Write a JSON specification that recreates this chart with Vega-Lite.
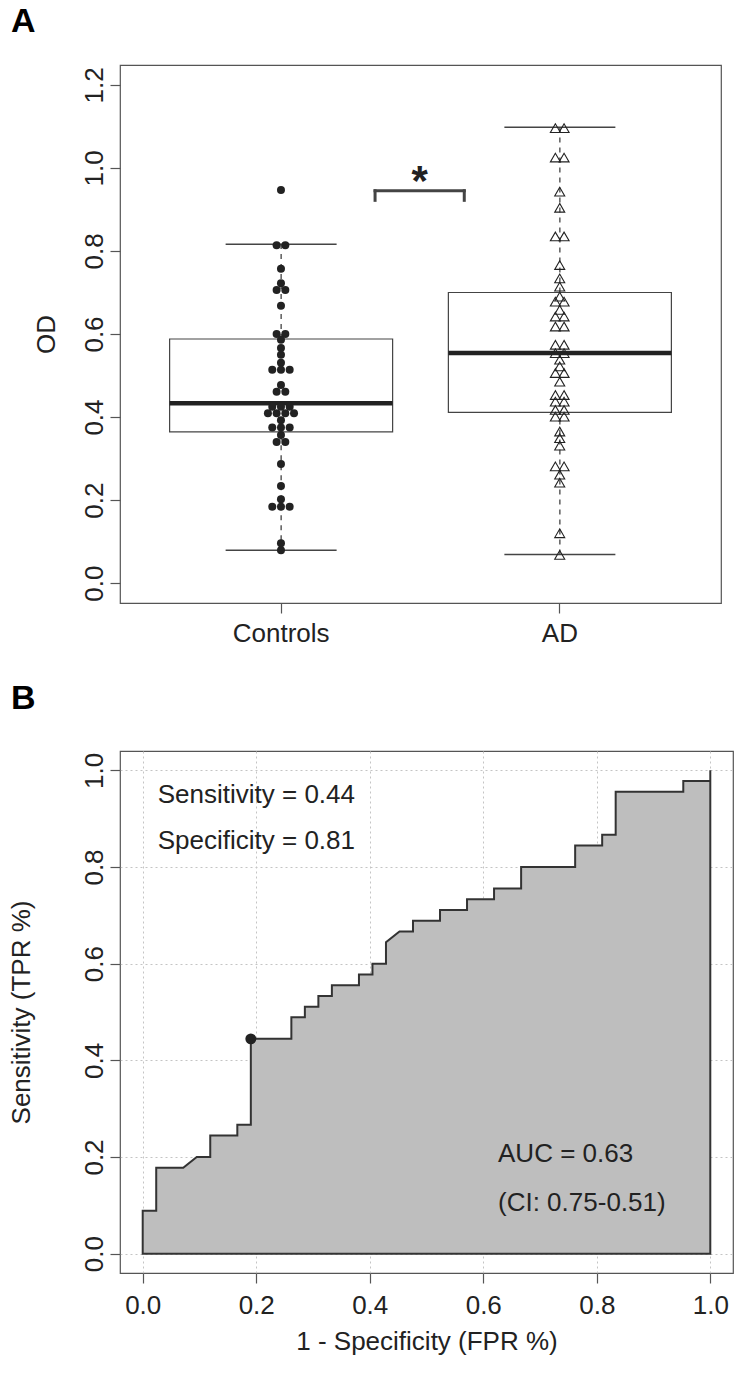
{
  "$schema": "https://vega.github.io/schema/vega-lite/v6.json",
  "padding": {"left": 7, "top": 4, "right": 0, "bottom": 0},
  "background": "white",
  "config": {
    "font": "Liberation Sans",
    "view": {"stroke": "#555", "strokeWidth": 1.2},
    "axis": {
      "labelFont": "Liberation Sans", "titleFont": "Liberation Sans",
      "labelFontSize": 26, "titleFontSize": 26,
      "labelColor": "#222", "titleColor": "#222", "titleFontWeight": "normal",
      "tickColor": "#555", "tickWidth": 1.2, "tickSize": 10,
      "domain": false, "grid": false
    },
    "title": {"font": "Liberation Sans", "fontSize": 34, "fontWeight": "bold", "color": "#000", "anchor": "start", "frame": "group"}
  },
  "datasets": {
    "boxes": [
      {"group": "Controls", "wlo": 0.079, "q1": 0.364, "med": 0.433, "q3": 0.588, "whi": 0.816},
      {"group": "AD", "wlo": 0.069, "q1": 0.411, "med": 0.554, "q3": 0.700, "whi": 1.098}
    ],
    "points": [
      {"group": "Controls", "OD": 0.947}, {"group": "Controls", "OD": 0.814}, {"group": "Controls", "OD": 0.814},
      {"group": "Controls", "OD": 0.757}, {"group": "Controls", "OD": 0.722}, {"group": "Controls", "OD": 0.706},
      {"group": "Controls", "OD": 0.706}, {"group": "Controls", "OD": 0.668}, {"group": "Controls", "OD": 0.600},
      {"group": "Controls", "OD": 0.600}, {"group": "Controls", "OD": 0.586}, {"group": "Controls", "OD": 0.566},
      {"group": "Controls", "OD": 0.550}, {"group": "Controls", "OD": 0.531}, {"group": "Controls", "OD": 0.514},
      {"group": "Controls", "OD": 0.514}, {"group": "Controls", "OD": 0.514}, {"group": "Controls", "OD": 0.477},
      {"group": "Controls", "OD": 0.461}, {"group": "Controls", "OD": 0.461}, {"group": "Controls", "OD": 0.425},
      {"group": "Controls", "OD": 0.425}, {"group": "Controls", "OD": 0.425}, {"group": "Controls", "OD": 0.409},
      {"group": "Controls", "OD": 0.409}, {"group": "Controls", "OD": 0.409}, {"group": "Controls", "OD": 0.409},
      {"group": "Controls", "OD": 0.392}, {"group": "Controls", "OD": 0.375}, {"group": "Controls", "OD": 0.375},
      {"group": "Controls", "OD": 0.375}, {"group": "Controls", "OD": 0.357}, {"group": "Controls", "OD": 0.340},
      {"group": "Controls", "OD": 0.340}, {"group": "Controls", "OD": 0.287}, {"group": "Controls", "OD": 0.234},
      {"group": "Controls", "OD": 0.202}, {"group": "Controls", "OD": 0.184}, {"group": "Controls", "OD": 0.184},
      {"group": "Controls", "OD": 0.184}, {"group": "Controls", "OD": 0.096}, {"group": "Controls", "OD": 0.079},
      {"group": "AD", "OD": 1.096}, {"group": "AD", "OD": 1.096}, {"group": "AD", "OD": 1.025},
      {"group": "AD", "OD": 1.025}, {"group": "AD", "OD": 0.943}, {"group": "AD", "OD": 0.904},
      {"group": "AD", "OD": 0.835}, {"group": "AD", "OD": 0.835}, {"group": "AD", "OD": 0.766},
      {"group": "AD", "OD": 0.734}, {"group": "AD", "OD": 0.714}, {"group": "AD", "OD": 0.690},
      {"group": "AD", "OD": 0.678}, {"group": "AD", "OD": 0.678}, {"group": "AD", "OD": 0.658},
      {"group": "AD", "OD": 0.642}, {"group": "AD", "OD": 0.642}, {"group": "AD", "OD": 0.618},
      {"group": "AD", "OD": 0.618}, {"group": "AD", "OD": 0.574}, {"group": "AD", "OD": 0.574},
      {"group": "AD", "OD": 0.554}, {"group": "AD", "OD": 0.554}, {"group": "AD", "OD": 0.538},
      {"group": "AD", "OD": 0.522}, {"group": "AD", "OD": 0.506}, {"group": "AD", "OD": 0.506},
      {"group": "AD", "OD": 0.485}, {"group": "AD", "OD": 0.453}, {"group": "AD", "OD": 0.453},
      {"group": "AD", "OD": 0.437}, {"group": "AD", "OD": 0.437}, {"group": "AD", "OD": 0.417},
      {"group": "AD", "OD": 0.417}, {"group": "AD", "OD": 0.401}, {"group": "AD", "OD": 0.401},
      {"group": "AD", "OD": 0.365}, {"group": "AD", "OD": 0.349}, {"group": "AD", "OD": 0.331},
      {"group": "AD", "OD": 0.281}, {"group": "AD", "OD": 0.281}, {"group": "AD", "OD": 0.261},
      {"group": "AD", "OD": 0.242}, {"group": "AD", "OD": 0.120}, {"group": "AD", "OD": 0.068}
    ],
    "roc": [
      {"FPR": 0, "TPR": 0}, {"FPR": 0, "TPR": 0.0889}, {"FPR": 0.0238, "TPR": 0.0889}, {"FPR": 0.0238, "TPR": 0.1778},
      {"FPR": 0.0714, "TPR": 0.1778}, {"FPR": 0.0952, "TPR": 0.2}, {"FPR": 0.119, "TPR": 0.2}, {"FPR": 0.119, "TPR": 0.2444},
      {"FPR": 0.1667, "TPR": 0.2444}, {"FPR": 0.1667, "TPR": 0.2667}, {"FPR": 0.1905, "TPR": 0.2667}, {"FPR": 0.1905, "TPR": 0.4444},
      {"FPR": 0.2619, "TPR": 0.4444}, {"FPR": 0.2619, "TPR": 0.4889}, {"FPR": 0.2857, "TPR": 0.4889}, {"FPR": 0.2857, "TPR": 0.5111},
      {"FPR": 0.3095, "TPR": 0.5111}, {"FPR": 0.3095, "TPR": 0.5333}, {"FPR": 0.3333, "TPR": 0.5333}, {"FPR": 0.3333, "TPR": 0.5556},
      {"FPR": 0.381, "TPR": 0.5556}, {"FPR": 0.381, "TPR": 0.5778}, {"FPR": 0.4048, "TPR": 0.5778}, {"FPR": 0.4048, "TPR": 0.6},
      {"FPR": 0.4286, "TPR": 0.6}, {"FPR": 0.4286, "TPR": 0.6444}, {"FPR": 0.4524, "TPR": 0.6667}, {"FPR": 0.4762, "TPR": 0.6667},
      {"FPR": 0.4762, "TPR": 0.6889}, {"FPR": 0.5238, "TPR": 0.6889}, {"FPR": 0.5238, "TPR": 0.7111}, {"FPR": 0.5714, "TPR": 0.7111},
      {"FPR": 0.5714, "TPR": 0.7333}, {"FPR": 0.619, "TPR": 0.7333}, {"FPR": 0.619, "TPR": 0.7556}, {"FPR": 0.6667, "TPR": 0.7556},
      {"FPR": 0.6667, "TPR": 0.8}, {"FPR": 0.7619, "TPR": 0.8}, {"FPR": 0.7619, "TPR": 0.8444}, {"FPR": 0.8095, "TPR": 0.8444},
      {"FPR": 0.8095, "TPR": 0.8667}, {"FPR": 0.8333, "TPR": 0.8667}, {"FPR": 0.8333, "TPR": 0.9556}, {"FPR": 0.9524, "TPR": 0.9556},
      {"FPR": 0.9524, "TPR": 0.9778}, {"FPR": 1, "TPR": 0.9778}, {"FPR": 1, "TPR": 1}
    ],
    "best": [{"FPR": 0.1905, "TPR": 0.4444}]
  },
  "spacing": 34,
  "vconcat": [
    {
      "title": {"text": "A", "dx": -109, "offset": 26},
      "width": 601,
      "height": 538,
      "layer": [
        {
          "data": {"name": "boxes"},
          "layer": [
            {
              "mark": {"type": "rule", "color": "#333", "strokeWidth": 1.2, "strokeDash": [5, 5]},
              "encoding": {
                "x": {"field": "group", "type": "nominal",
                  "scale": {"domain": ["Controls", "AD"], "paddingInner": 0.2, "paddingOuter": 0.178},
                  "axis": {"title": null, "labelAngle": 0, "labelPadding": 7, "ticks": true}},
                "y": {"field": "wlo", "type": "quantitative",
                  "scale": {"domain": [-0.048, 1.248], "nice": false, "zero": false},
                  "axis": {"title": "OD", "values": [0, 0.2, 0.4, 0.6, 0.8, 1.0, 1.2], "format": ".1f",
                    "labelAngle": 270, "labelAlign": "center", "labelBaseline": "bottom", "labelPadding": 3, "titlePadding": 22}},
                "y2": {"field": "q1"}
              }
            },
            {
              "mark": {"type": "rule", "color": "#333", "strokeWidth": 1.2, "strokeDash": [5, 5]},
              "encoding": {
                "x": {"field": "group", "type": "nominal"},
                "y": {"field": "q3", "type": "quantitative"},
                "y2": {"field": "whi"}
              }
            },
            {
              "mark": {"type": "tick", "color": "#444", "size": 111, "thickness": 1.5, "opacity": 1},
              "encoding": {"x": {"field": "group", "type": "nominal"}, "y": {"field": "wlo", "type": "quantitative"}}
            },
            {
              "mark": {"type": "tick", "color": "#444", "size": 111, "thickness": 1.5, "opacity": 1},
              "encoding": {"x": {"field": "group", "type": "nominal"}, "y": {"field": "whi", "type": "quantitative"}}
            },
            {
              "mark": {"type": "bar", "fill": "white", "stroke": "#444", "strokeWidth": 1.2},
              "encoding": {"x": {"field": "group", "type": "nominal"}, "y": {"field": "q1", "type": "quantitative"}, "y2": {"field": "q3"}}
            },
            {
              "mark": {"type": "tick", "color": "#222", "size": 223, "thickness": 4.5, "opacity": 1},
              "encoding": {"x": {"field": "group", "type": "nominal"}, "y": {"field": "med", "type": "quantitative"}}
            }
          ]
        },
        {
          "data": {"name": "points"},
          "transform": [
            {"window": [{"op": "row_number", "as": "k"}, {"op": "count", "as": "n"}], "groupby": ["group", "OD"], "frame": [null, null]},
            {"calculate": "datum.k - (datum.n + 1) / 2", "as": "slot"}
          ],
          "layer": [
            {
              "transform": [{"filter": "datum.group === 'Controls'"}],
              "mark": {"type": "point", "shape": "circle", "filled": true, "size": 64, "color": "#222", "opacity": 1},
              "encoding": {
                "x": {"field": "group", "type": "nominal",
                  "scale": {"domain": ["Controls", "AD"], "paddingInner": 0.2, "paddingOuter": 0.178}, "axis": null},
                "xOffset": {"field": "slot", "type": "quantitative", "scale": {"domain": [-2, 2], "range": [93.95, 128.75]}},
                "y": {"field": "OD", "type": "quantitative"}
              }
            },
            {
              "transform": [{"filter": "datum.group === 'AD'"}],
              "mark": {"type": "point", "shape": "triangle-up", "filled": false, "size": 100, "stroke": "#222", "strokeWidth": 1.1, "opacity": 1},
              "encoding": {
                "x": {"field": "group", "type": "nominal"},
                "xOffset": {"field": "slot", "type": "quantitative"},
                "y": {"field": "OD", "type": "quantitative"}
              }
            }
          ]
        },
        {
          "data": {"values": [{}]},
          "layer": [
            {
              "mark": {"type": "rule", "color": "#444", "strokeWidth": 3, "strokeCap": "square"},
              "encoding": {
                "x": {"datum": 1.337, "type": "quantitative", "scale": {"domain": [0.422, 2.578], "nice": false, "zero": false}, "axis": null},
                "x2": {"datum": 1.657},
                "y": {"datum": 0.945, "type": "quantitative"}
              }
            },
            {
              "mark": {"type": "rule", "color": "#444", "strokeWidth": 3, "strokeCap": "square"},
              "encoding": {
                "x": {"datum": 1.337, "type": "quantitative"},
                "y": {"datum": 0.945, "type": "quantitative"},
                "y2": {"datum": 0.922}
              }
            },
            {
              "mark": {"type": "rule", "color": "#444", "strokeWidth": 3, "strokeCap": "square"},
              "encoding": {
                "x": {"datum": 1.657, "type": "quantitative"},
                "y": {"datum": 0.945, "type": "quantitative"},
                "y2": {"datum": 0.922}
              }
            },
            {
              "mark": {"type": "text", "text": "*", "fontSize": 42, "fontWeight": "bold", "color": "#222", "align": "center", "baseline": "alphabetic"},
              "encoding": {
                "x": {"datum": 1.497, "type": "quantitative"},
                "y": {"datum": 0.935, "type": "quantitative"}
              }
            }
          ]
        }
      ],
      "resolve": {"scale": {"x": "independent", "xOffset": "independent"}}
    },
    {
      "title": {"text": "B", "dx": -109, "offset": 35},
      "width": 613,
      "height": 522,
      "layer": [
        {
          "data": {"name": "roc"},
          "mark": {"type": "area", "fill": "#bebebe", "stroke": "#333", "strokeWidth": 2, "opacity": 1},
          "encoding": {
            "x": {"field": "FPR", "type": "quantitative",
              "scale": {"domain": [-0.04, 1.04], "nice": false, "zero": false},
              "axis": {"title": "1 - Specificity (FPR %)", "values": [0, 0.2, 0.4, 0.6, 0.8, 1.0], "format": ".1f",
                "labelFlush": false, "labelPadding": 9, "titlePadding": 10,
                "grid": true, "gridDash": [2, 3], "gridColor": "#c4c4c4", "gridWidth": 1}},
            "y": {"field": "TPR", "type": "quantitative",
              "scale": {"domain": [-0.04, 1.04], "nice": false, "zero": false},
              "axis": {"title": "Sensitivity (TPR %)", "values": [0, 0.2, 0.4, 0.6, 0.8, 1.0], "format": ".1f",
                "labelAngle": 270, "labelAlign": "center", "labelBaseline": "bottom", "labelPadding": 3, "labelFlush": false, "titlePadding": 47,
                "grid": true, "gridDash": [2, 3], "gridColor": "#c4c4c4", "gridWidth": 1}},
            "y2": {"datum": 0},
            "order": {"value": null}
          }
        },
        {
          "data": {"name": "best"},
          "mark": {"type": "circle", "size": 120, "color": "#222", "opacity": 1},
          "encoding": {
            "x": {"field": "FPR", "type": "quantitative"},
            "y": {"field": "TPR", "type": "quantitative"}
          }
        },
        {
          "data": {"values": [{}]},
          "layer": [
            {
              "mark": {"type": "text", "text": "Sensitivity = 0.44", "fontSize": 26, "color": "#222", "align": "left", "baseline": "alphabetic"},
              "encoding": {"x": {"datum": 0.0265, "type": "quantitative"}, "y": {"datum": 0.933, "type": "quantitative"}}
            },
            {
              "mark": {"type": "text", "text": "Specificity = 0.81", "fontSize": 26, "color": "#222", "align": "left", "baseline": "alphabetic"},
              "encoding": {"x": {"datum": 0.0265, "type": "quantitative"}, "y": {"datum": 0.837, "type": "quantitative"}}
            },
            {
              "mark": {"type": "text", "text": "AUC = 0.63", "fontSize": 26, "color": "#222", "align": "left", "baseline": "alphabetic"},
              "encoding": {"x": {"datum": 0.626, "type": "quantitative"}, "y": {"datum": 0.189, "type": "quantitative"}}
            },
            {
              "mark": {"type": "text", "text": "(CI: 0.75-0.51)", "fontSize": 26, "color": "#222", "align": "left", "baseline": "alphabetic"},
              "encoding": {"x": {"datum": 0.626, "type": "quantitative"}, "y": {"datum": 0.088, "type": "quantitative"}}
            }
          ]
        }
      ]
    }
  ]
}
